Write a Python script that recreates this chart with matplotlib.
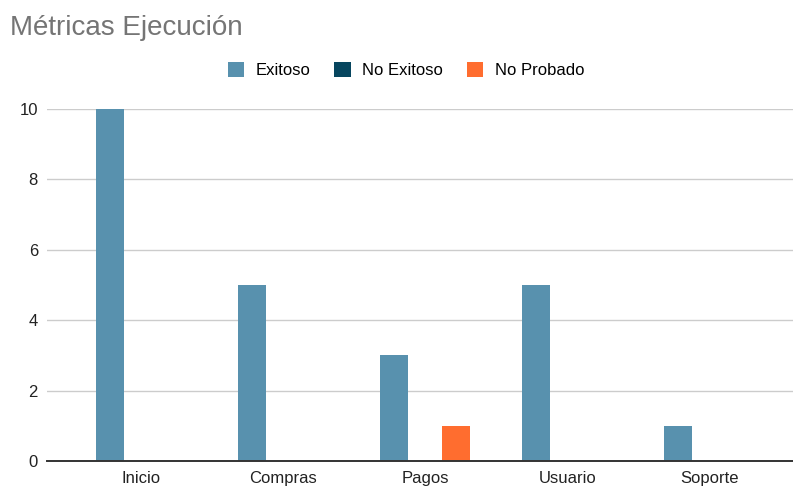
import numpy as np
import matplotlib
matplotlib.use("Agg")
import matplotlib.pyplot as plt
from matplotlib.patches import Patch

plt.rcParams["font.family"] = ["Liberation Sans", "DejaVu Sans"]

categories = ["Inicio", "Compras", "Pagos", "Usuario", "Soporte"]
exitoso = [10, 5, 3, 5, 1]
no_exitoso = [0, 0, 0, 0, 0]
no_probado = [0, 0, 1, 0, 0]
series_names = ["Exitoso", "No Exitoso", "No Probado"]
colors = ["#5891AE", "#07465F", "#FF6D2F"]

fig = plt.figure(figsize=(7.93, 4.87), dpi=100)
ax = fig.add_axes([0.0593, 0.0534, 0.9407, 0.7228])

x = np.arange(len(categories))
width = 0.194
offset = 0.218
for i, (vals, col) in enumerate(zip([exitoso, no_exitoso, no_probado], colors)):
    ax.bar(x + (i - 1) * offset, vals, width, color=col, zorder=3)

ax.set_xlim(-0.662, 4.59)
ax.set_ylim(0, 10)
ax.set_yticks([0, 2, 4, 6, 8, 10])
ax.set_xticks(x)
ax.set_xticklabels(categories)
ax.grid(axis="y", color="#cccccc", linewidth=1, zorder=0)
for s in ["top", "right", "left"]:
    ax.spines[s].set_visible(False)
ax.spines["bottom"].set_color("#333333")
ax.spines["bottom"].set_linewidth(1.4)
ax.spines["bottom"].set_zorder(4)
ax.tick_params(axis="both", length=0, labelsize=12, labelcolor="#222222")
ax.tick_params(axis="y", pad=6.5)
ax.tick_params(axis="x", pad=7.5)

fig.text(0.012, 0.928, "Métricas Ejecución", fontsize=20, color="#757575",
         ha="left", va="baseline")

handles = [Patch(facecolor=c, edgecolor="none") for c in colors]
fig.legend(handles, series_names, loc="center", bbox_to_anchor=(0.512, 0.856),
           ncol=3, frameon=False, fontsize=12, handlelength=1.0, handleheight=1.0,
           handletextpad=0.7, columnspacing=1.4)

fig.savefig("out.png", dpi=100)
